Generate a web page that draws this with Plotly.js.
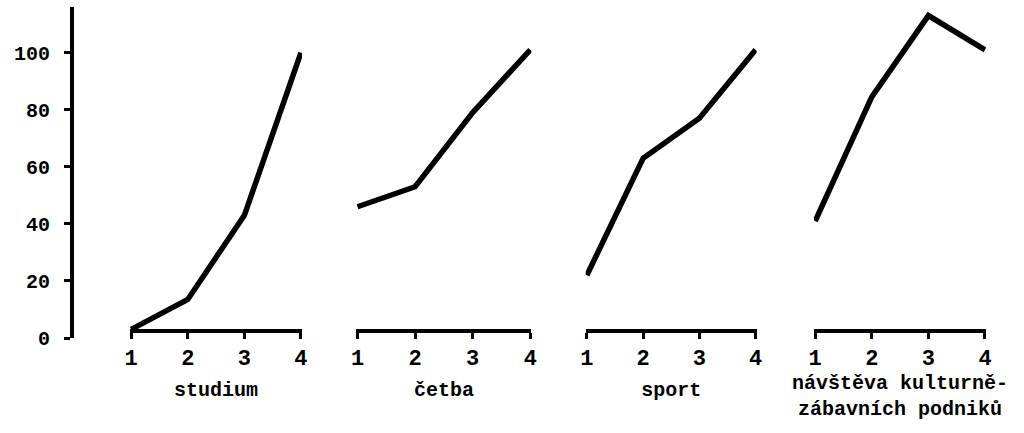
<!DOCTYPE html>
<html>
<head>
<meta charset="utf-8">
<script src="https://cdn.plot.ly/plotly-3.0.1.min.js"></script>
<style>html,body{margin:0;padding:0;background:#fff;}#chart{width:1024px;height:433px;}</style>
</head>
<body>
<div id="chart"></div>
<script>
const categories = ['studium', 'četba', 'sport', 'návštěva kulturně-<br>zábavních podniků'];
const xValues = [1, 2, 3, 4];
const studium = [3, 13.5, 43, 100];
const cetba = [46, 53, 79, 101];
const sport = [22, 63, 77, 101];
const navsteva = [41, 84.5, 113, 101];
const yTicks = [0, 20, 40, 60, 80, 100];

const series = [studium, cetba, sport, navsteva];
const domains = [[0.127, 0.295], [0.348, 0.519], [0.572, 0.739], [0.795, 0.963]];
const font = {family: 'Liberation Mono, Courier New, monospace', color: '#000', weight: 'bold'};

const traces = series.map((vals, i) => ({
  type: 'scatter', mode: 'lines',
  x: xValues, y: vals,
  xaxis: i === 0 ? 'x' : 'x' + (i + 1), yaxis: 'y',
  line: {color: '#000', width: 5.5},
  cliponaxis: false, hoverinfo: 'none', showlegend: false
}));

const layout = {
  width: 1024, height: 433,
  margin: {l: 0, r: 0, t: 7, b: 95},
  paper_bgcolor: '#fff', plot_bgcolor: '#fff',
  showlegend: false,
  yaxis: {
    range: [0, 116], anchor: 'free', position: 0.0703,
    showline: true, linecolor: '#000', linewidth: 4,
    ticks: 'outside', ticklen: 6, tickwidth: 3, tickcolor: '#000',
    tickvals: yTicks, ticktext: yTicks.map(String),
    ticklabelstandoff: 10,
    tickfont: Object.assign({size: 20}, font),
    showgrid: false, zeroline: false
  }
};

categories.forEach((cat, i) => {
  const key = i === 0 ? 'xaxis' : 'xaxis' + (i + 1);
  layout[key] = {
    domain: domains[i], range: [0.98, 4.02],
    anchor: 'free', position: 0.021,
    showline: true, linecolor: '#000', linewidth: 4,
    ticks: 'outside', ticklen: 6, tickwidth: 3, tickcolor: '#000',
    tickvals: xValues, ticktext: xValues.map(String),
    tickfont: Object.assign({size: 22}, font),
    showgrid: false, zeroline: false,
    title: {text: cat, font: Object.assign({size: 20}, font), standoff: i === 3 ? 2 : 10}
  };
});

Plotly.newPlot('chart', traces, layout, {displayModeBar: false, staticPlot: true});
</script>
</body>
</html>
